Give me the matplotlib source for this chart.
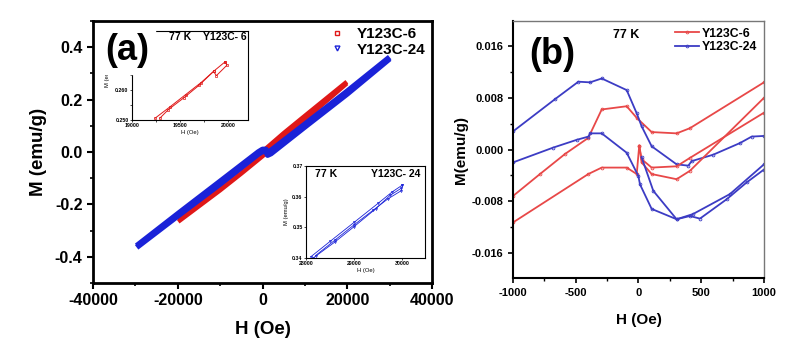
import matplotlib
matplotlib.use('Agg')
import matplotlib.pyplot as plt
from matplotlib.lines import Line2D
from matplotlib.patches import Rectangle
from matplotlib.ticker import MultipleLocator

plt.rcParams['font.family'] = ['Liberation Sans', 'DejaVu Sans']
plt.rcParams['font.weight'] = 'bold'
plt.rcParams['axes.unicode_minus'] = False

# ---- panel (a): full loops, knots
red_up_H = [19900, 10000, 5000, 0, -5000, -10000, -19900]
red_up_M = [0.268, 0.138, 0.072, 0.002, -0.062, -0.128, -0.258]
red_dn_H = [-19900, -10000, -5000, 0, 5000, 10000, 19900]
red_dn_M = [-0.266, -0.146, -0.082, -0.016, 0.058, 0.124, 0.262]

blue_up_H = [30000, 20000, 10000, 2000, 1200, 800, 0, -1000, -10000, -20000, -29700]
blue_up_M = [0.362, 0.232, 0.106, 0.006, -0.004, 0.010, 0.010, 0.000, -0.112, -0.236, -0.358]
blue_dn_H = [-29700, -20000, -10000, -1000, 0, 800, 1200, 2000, 10000, 20000, 30000]
blue_dn_M = [-0.364, -0.244, -0.122, -0.008, 0.002, 0.002, -0.012, -0.006, 0.096, 0.222, 0.356]

# inset 1 (Y123C-6)
in1_H1 = [19240, 19400, 19560, 19720, 19860, 19970]
in1_M1 = [0.2506, 0.2545, 0.2585, 0.2625, 0.2665, 0.2694]
in1_H2 = [19970, 19990, 19880, 19850, 19700, 19540, 19380, 19290]
in1_M2 = [0.2694, 0.2683, 0.2648, 0.2662, 0.2616, 0.2574, 0.2535, 0.2506]

# inset 2 (Y123C-24)
in2_H1 = [28100, 28500, 29000, 29500, 29800, 30010]
in2_M1 = [0.3404, 0.3454, 0.3516, 0.3578, 0.3616, 0.3638]
in2_H2 = [30010, 29990, 29700, 29400, 29000, 28600, 28200]
in2_M2 = [0.3638, 0.3620, 0.3592, 0.3556, 0.3508, 0.3458, 0.3408]
in2_H3 = [28150, 28600, 29000, 29450, 29750, 29990]
in2_M3 = [0.3400, 0.3452, 0.3502, 0.3560, 0.3604, 0.3628]

# ---- panel (b): low field zoom
red_b1_H = [-1000, -785, -586, -400, -293, -94, -14, 105, 304, 410, 1000]
red_b1_M = [-0.0072, -0.0038, -0.0007, 0.0018, 0.0062, 0.0067, 0.0049, 0.0027, 0.0025, 0.0033, 0.0104]
red_b2_H = [-1000, -400, -293, -94, -14, 6, 25, 105, 304, 410, 1000]
red_b2_M = [-0.0113, -0.0038, -0.0028, -0.0028, -0.0038, 0.0006, -0.0015, -0.0028, -0.0026, -0.0013, 0.0057]
red_b3_H = [6, 25, 105, 304, 410, 1000]
red_b3_M = [0.0006, -0.0020, -0.0038, -0.0046, -0.0033, 0.0080]

blue_b1_H = [-1000, -665, -479, -386, -293, -94, -14, 25, 105, 304, 397, 424, 596, 809, 902, 1000]
blue_b1_M = [0.0028, 0.0078, 0.0105, 0.0104, 0.0110, 0.0092, 0.0056, 0.0036, 0.0005, -0.0023,
             -0.0025, -0.0018, -0.0008, 0.0010, 0.0020, 0.0021]
blue_b2_H = [-1000, -679, -492, -399, -386, -293, -94, -1, 12, 105, 304, 410, 490, 703, 862, 1000]
blue_b2_M = [-0.0020, 0.0003, 0.0015, 0.0020, 0.0025, 0.0025, -0.0005, -0.0041, -0.0054, -0.0092,
             -0.0108, -0.0103, -0.0107, -0.0077, -0.0051, -0.0031]
blue_b3_H = [25, 118, 304, 434, 729, 1000]
blue_b3_M = [-0.0012, -0.0064, -0.0108, -0.0100, -0.0069, -0.0023]

RED = '#e01818'
BLUE = '#1a22d8'
RED_B = '#e84848'
BLUE_B = '#3c3cc4'

fig = plt.figure(figsize=(8.08, 3.59), dpi=100)

### panel (a)
ax = fig.add_axes([0.1151, 0.2117, 0.4196, 0.7298])
ax.plot(red_up_H, red_up_M, color=RED, lw=3.2, solid_capstyle='butt', zorder=2)
ax.plot(red_dn_H, red_dn_M, color=RED, lw=3.2, solid_capstyle='butt', zorder=2)
ax.plot(blue_up_H, blue_up_M, color=BLUE, lw=4, solid_capstyle='butt', zorder=3)
ax.plot(blue_dn_H, blue_dn_M, color=BLUE, lw=4, solid_capstyle='butt', zorder=3)
ax.set_xlim(-40000, 40000)
ax.set_ylim(-0.5, 0.5)
ax.set_xticks([-40000, -20000, 0, 20000, 40000])
ax.xaxis.set_minor_locator(MultipleLocator(10000))
ax.set_yticks([-0.4, -0.2, 0.0, 0.2, 0.4])
ax.yaxis.set_minor_locator(MultipleLocator(0.1))
ax.tick_params(which='major', direction='out', length=4, width=1.5, labelsize=11.5)
ax.tick_params(which='minor', direction='out', length=2.5, width=1.2)
for s in ax.spines.values():
    s.set_linewidth(2)
ax.set_xlabel('H (Oe)', fontsize=13.5, fontweight='bold', labelpad=9)
ax.set_ylabel('M (emu/g)', fontsize=13.5, fontweight='bold')
ax.yaxis.set_label_coords(-0.136, 0.5)

handles = [Line2D([], [], ls='none', marker='s', ms=3, mfc='none', mec=RED, mew=1),
           Line2D([], [], ls='none', marker='v', ms=3.5, mfc='none', mec=BLUE, mew=1)]
ax.legend(handles, ['Y123C-6', 'Y123C-24'], loc='upper right', frameon=False,
          prop={'weight': 'bold', 'size': 11}, handlelength=1.0,
          handletextpad=0.8, labelspacing=0.1, borderaxespad=0.0,
          bbox_to_anchor=(1.0, 1.0))

# inset 1
ins1 = fig.add_axes([0.1634, 0.6657, 0.1436, 0.2480])
ins1.plot(in1_H1, in1_M1, color=RED, lw=0.7, marker='s', ms=1.5, mfc='none', mew=0.5)
ins1.plot(in1_H2, in1_M2, color=RED, lw=0.7, marker='s', ms=1.5, mfc='none', mew=0.5)
ins1.set_xlim(19000, 20210)
ins1.set_ylim(0.25, 0.2797)
ins1.set_xticks([19000, 19500, 20000])
ins1.set_yticks([0.25, 0.26])
ins1.set_yticklabels(['0.250', '0.260'])
ins1.xaxis.set_minor_locator(MultipleLocator(250))
ins1.yaxis.set_minor_locator(MultipleLocator(0.005))
ins1.tick_params(which='both', labelsize=3.8, length=1.5, width=0.5, pad=1)
for s in ins1.spines.values():
    s.set_linewidth(0.8)
ins1.set_xlabel('H (Oe)', fontsize=4.2, labelpad=1)
# the rest of this label is hidden under the panel letter in the original
ins1.set_ylabel('M (er', fontsize=4.2)
ins1.yaxis.set_label_coords(-0.19, 0.45)
ins1.text(0.41, 0.935, '77 K', transform=ins1.transAxes, ha='center', va='center',
          fontsize=7.5, fontweight='bold')
ins1.text(0.80, 0.935, 'Y123C- 6', transform=ins1.transAxes, ha='center', va='center',
          fontsize=7.5, fontweight='bold')

# inset 2
ins2 = fig.add_axes([0.3787, 0.2813, 0.1473, 0.2563])
for hh, mm in [(in2_H1, in2_M1), (in2_H2, in2_M2), (in2_H3, in2_M3)]:
    ins2.plot(hh, mm, color=BLUE, lw=0.6, marker='v', ms=1.5, mfc='none', mew=0.5)
ins2.set_xlim(28000, 30480)
ins2.set_ylim(0.34, 0.37)
ins2.set_xticks([28000, 29000, 30000])
ins2.set_yticks([0.34, 0.35, 0.36, 0.37])
ins2.tick_params(which='both', labelsize=3.8, length=1.5, width=0.5, pad=1)
for s in ins2.spines.values():
    s.set_linewidth(0.8)
ins2.set_xlabel('H (Oe)', fontsize=4.2, labelpad=1)
ins2.set_ylabel('M (emu/g)', fontsize=4.2, labelpad=2)
ins2.text(0.17, 0.91, '77 K', transform=ins2.transAxes, ha='center', va='center',
          fontsize=7.5, fontweight='bold')
ins2.text(0.75, 0.91, 'Y123C- 24', transform=ins2.transAxes, ha='center', va='center',
          fontsize=7.5, fontweight='bold')

# label (a) sits over the corner of the first inset
fig.add_artist(Rectangle((102 / 808, 1 - 74 / 359), 53 / 808, 50 / 359,
                         transform=fig.transFigure, color='white', zorder=2.5))
fig.text(127 / 808, 1 - 50 / 359, '(a)', ha='center', va='center', fontsize=26,
         fontweight='bold', zorder=3)

### panel (b)
bx = fig.add_axes([0.6349, 0.2256, 0.3106, 0.7159])
kw = dict(lw=1.3, marker='o', ms=2, mfc='none', mew=0.6)
bx.plot(red_b1_H, red_b1_M, color=RED_B, label='Y123C-6', **kw)
bx.plot(blue_b1_H, blue_b1_M, color=BLUE_B, label='Y123C-24', **kw)
bx.plot(red_b2_H, red_b2_M, color=RED_B, **kw)
bx.plot(red_b3_H, red_b3_M, color=RED_B, **kw)
bx.plot(blue_b2_H, blue_b2_M, color=BLUE_B, **kw)
bx.plot(blue_b3_H, blue_b3_M, color=BLUE_B, **kw)
bx.set_xlim(-1000, 1000)
bx.set_ylim(-0.0199, 0.0199)
bx.set_xticks([-1000, -500, 0, 500, 1000])
bx.xaxis.set_minor_locator(MultipleLocator(250))
bx.set_yticks([-0.016, -0.008, 0.0, 0.008, 0.016])
bx.set_yticklabels(['-0.016', '-0.008', '0.000', '0.008', '0.016'])
bx.yaxis.set_minor_locator(MultipleLocator(0.004))
bx.tick_params(which='major', direction='out', length=3.5, width=1.2, labelsize=8)
bx.tick_params(which='minor', direction='out', length=2, width=1)
for side in ['left', 'bottom']:
    bx.spines[side].set_linewidth(1.5)
for side in ['top', 'right']:
    bx.spines[side].set_linewidth(1)
    bx.spines[side].set_color('#777777')
bx.set_xlabel('H (Oe)', fontsize=11, fontweight='bold', labelpad=11)
bx.set_ylabel('M(emu/g)', fontsize=11, fontweight='bold')
bx.yaxis.set_label_coords(-0.18, 0.5)
bx.legend(loc='upper right', frameon=False, handlelength=2.0, handletextpad=0.2,
          labelspacing=0.1, borderaxespad=0.15, prop={'weight': 'bold', 'size': 8.8})
bx.text(0.45, 0.945, '77 K', transform=bx.transAxes, ha='center', va='center', fontsize=9,
        fontweight='bold')
bx.text(0.155, 0.87, '(b)', transform=bx.transAxes, ha='center', va='center', fontsize=26,
        fontweight='bold')

fig.savefig('out.png', dpi=100)
